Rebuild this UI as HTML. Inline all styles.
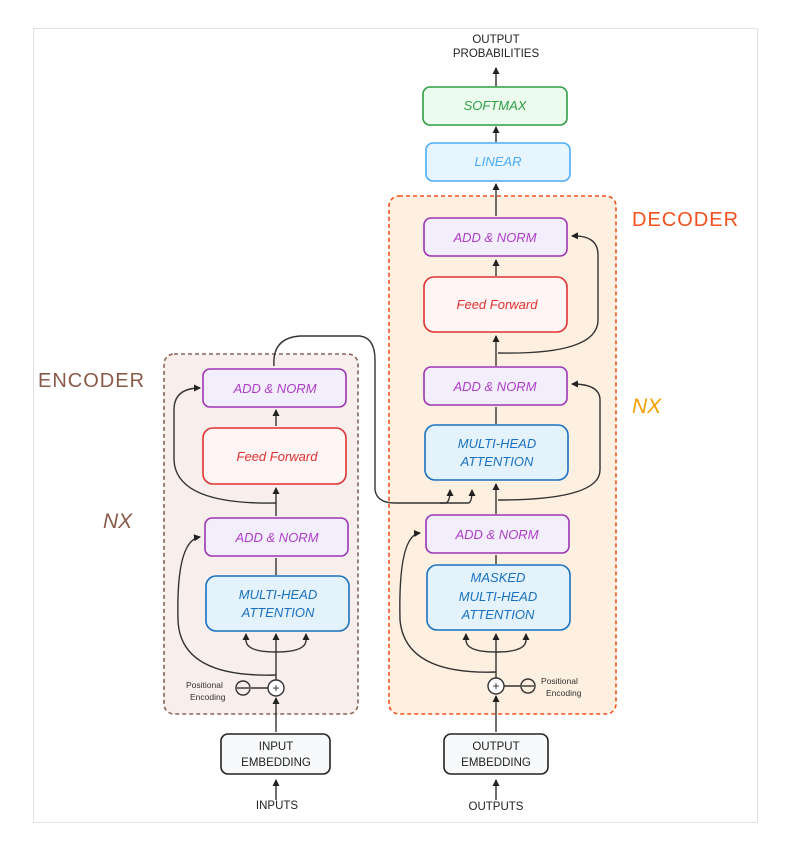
<!DOCTYPE html>
<html><head><meta charset="utf-8"><style>
html,body{margin:0;padding:0;background:#fff;width:788px;height:846px;overflow:hidden}
svg{display:block}
text{font-family:"Liberation Sans",sans-serif}
</style></head><body>
<svg width="788" height="846" viewBox="0 0 788 846" xmlns="http://www.w3.org/2000/svg">
<defs>
<marker id="a" markerWidth="8" markerHeight="8" refX="6" refY="4" orient="auto" markerUnits="userSpaceOnUse"><path d="M0,0.5 L7,4 L0,7.5 z" fill="#222"/></marker>
</defs>
<rect x="33.5" y="28.5" width="724" height="794" fill="#fff" stroke="#e2e2e2"/>

<!-- containers -->
<rect x="164" y="354" width="194" height="360" rx="10" fill="#f8eeeb" stroke="#8a6554" stroke-width="1.6" stroke-dasharray="4,3"/>
<rect x="389" y="196" width="227" height="518" rx="10" fill="#fdf0e0" stroke="#f4511e" stroke-width="1.6" stroke-dasharray="4,3"/>

<text x="38" y="387" font-size="20" fill="#8a5a48" letter-spacing="1">ENCODER</text>
<text x="103" y="528" font-size="21" fill="#8a5a48" font-style="italic">NX</text>
<text x="632" y="226" font-size="20" fill="#f4511e" letter-spacing="1">DECODER</text>
<text x="632" y="413" font-size="21" fill="#f59f00" font-style="italic">NX</text>

<g fill="none" stroke="#333" stroke-width="1.4">
<!-- top arrows -->
<line x1="496" y1="86" x2="496" y2="68" marker-end="url(#a)"/>
<line x1="496" y1="142" x2="496" y2="127" marker-end="url(#a)"/>
<line x1="496" y1="216" x2="496" y2="184" marker-end="url(#a)"/>
<line x1="496" y1="276" x2="496" y2="260" marker-end="url(#a)"/>
<line x1="496" y1="366" x2="496" y2="336" marker-end="url(#a)"/>
<line x1="496" y1="424" x2="496" y2="407"/>
<line x1="496" y1="514" x2="496" y2="484" marker-end="url(#a)"/>
<line x1="496" y1="564" x2="496" y2="555"/>
<line x1="496" y1="732" x2="496" y2="696" marker-end="url(#a)"/>
<line x1="496" y1="800" x2="496" y2="780" marker-end="url(#a)"/>
<line x1="496" y1="678" x2="496" y2="634" marker-end="url(#a)"/>
<path d="M496 652 Q466 652 466 640 L466 634" marker-end="url(#a)"/>
<path d="M496 652 Q526 652 526 640 L526 634" marker-end="url(#a)"/>
<!-- decoder residuals -->
<path d="M496 672 Q405 675 400 620 Q398 535 420 533" marker-end="url(#a)"/>
<path d="M498 500 Q600 500 600 470 L600 400 Q600 384 572 384" marker-end="url(#a)"/>
<path d="M498 353 Q598 355 598 320 L598 255 Q598 235 572 236" marker-end="url(#a)"/>
<!-- encoder to decoder -->
<path d="M274 366 Q272 338 300 336 L360 336 Q375 338 375 360 L375 490 Q377 503 395 503 L445 503 Q450 503 450 490" marker-end="url(#a)"/>
<path d="M440 503 L468 503 Q472 503 472 490" marker-end="url(#a)"/>
<!-- encoder vertical -->
<line x1="276" y1="426" x2="276" y2="410" marker-end="url(#a)"/>
<line x1="276" y1="516" x2="276" y2="488" marker-end="url(#a)"/>
<line x1="276" y1="575" x2="276" y2="558"/>
<line x1="276" y1="680" x2="276" y2="634" marker-end="url(#a)"/>
<path d="M276 652 Q246 652 246 640 L246 634" marker-end="url(#a)"/>
<path d="M276 652 Q306 652 306 640 L306 634" marker-end="url(#a)"/>
<line x1="276" y1="732" x2="276" y2="698" marker-end="url(#a)"/>
<line x1="276" y1="800" x2="276" y2="780" marker-end="url(#a)"/>
<path d="M276 675 Q180 678 178 620 Q176 540 200 537" marker-end="url(#a)"/>
<path d="M276 503 Q176 505 174 460 L174 410 Q174 388 200 388" marker-end="url(#a)"/>
<!-- pos enc -->
<circle cx="276" cy="688" r="8" fill="#fff"/><line x1="251" y1="688" x2="268" y2="688"/>
<circle cx="243" cy="688" r="7"/><line x1="237" y1="688" x2="249" y2="688"/>
<circle cx="496" cy="686" r="8" fill="#fff"/><line x1="504" y1="686" x2="521" y2="686"/>
<circle cx="528" cy="686" r="7"/><line x1="522" y1="686" x2="534" y2="686"/>
</g>
<g font-size="12" fill="#222" text-anchor="middle"><text x="276" y="692">+</text><text x="496" y="690">+</text></g>
<g font-size="8.5" fill="#333"><text x="186" y="688">Positional</text><text x="190" y="700">Encoding</text>
<text x="541" y="684">Positional</text><text x="546" y="696">Encoding</text></g>

<!-- boxes -->
<g stroke-width="1.6">
<rect x="423" y="87" width="144" height="38" rx="7" fill="#ebfbee" stroke="#2f9e44"/>
<rect x="426" y="143" width="144" height="38" rx="7" fill="#e7f5ff" stroke="#4dabf7"/>
<rect x="424" y="218" width="143" height="38" rx="7" fill="#f3eefc" stroke="#9c36b5"/>
<rect x="424" y="277" width="143" height="55" rx="10" fill="#fff5f5" stroke="#e03131"/>
<rect x="424" y="367" width="143" height="38" rx="7" fill="#f3eefc" stroke="#9c36b5"/>
<rect x="425" y="425" width="143" height="55" rx="10" fill="#e3f2fb" stroke="#1971c2"/>
<rect x="426" y="515" width="143" height="38" rx="7" fill="#f3eefc" stroke="#9c36b5"/>
<rect x="427" y="565" width="143" height="65" rx="10" fill="#e3f2fb" stroke="#1971c2"/>
<rect x="444" y="734" width="104" height="40" rx="7" fill="#f8f9fa" stroke="#222"/>
<rect x="203" y="369" width="143" height="38" rx="7" fill="#f3eefc" stroke="#9c36b5"/>
<rect x="203" y="428" width="143" height="56" rx="10" fill="#fff5f5" stroke="#e03131"/>
<rect x="205" y="518" width="143" height="38" rx="7" fill="#f3eefc" stroke="#9c36b5"/>
<rect x="206" y="576" width="143" height="55" rx="10" fill="#e3f2fb" stroke="#1971c2"/>
<rect x="221" y="734" width="109" height="40" rx="7" fill="#f8f9fa" stroke="#222"/>
</g>

<g font-size="13" text-anchor="middle" font-style="italic">
<text x="495" y="110" fill="#2f9e44">SOFTMAX</text>
<text x="498" y="166" fill="#4dabf7">LINEAR</text>
<text x="495" y="242" fill="#ae3ec9">ADD &amp; NORM</text>
<text x="497" y="309" fill="#e03131">Feed Forward</text>
<text x="495" y="391" fill="#ae3ec9">ADD &amp; NORM</text>
<text x="497" y="448" fill="#1971c2">MULTI-HEAD</text>
<text x="497" y="466" fill="#1971c2">ATTENTION</text>
<text x="497" y="539" fill="#ae3ec9">ADD &amp; NORM</text>
<text x="498" y="582" fill="#1971c2">MASKED</text>
<text x="498" y="601" fill="#1971c2">MULTI-HEAD</text>
<text x="498" y="619" fill="#1971c2">ATTENTION</text>
<text x="275" y="393" fill="#ae3ec9">ADD &amp; NORM</text>
<text x="277" y="461" fill="#e03131">Feed Forward</text>
<text x="277" y="542" fill="#ae3ec9">ADD &amp; NORM</text>
<text x="278" y="599" fill="#1971c2">MULTI-HEAD</text>
<text x="278" y="617" fill="#1971c2">ATTENTION</text>
</g>
<g font-size="11.5" text-anchor="middle" fill="#222">
<text x="496" y="43">OUTPUT</text><text x="496" y="57">PROBABILITIES</text>
<text x="276" y="750">INPUT</text><text x="276" y="766">EMBEDDING</text>
<text x="496" y="750">OUTPUT</text><text x="496" y="766">EMBEDDING</text>
<text x="277" y="809">INPUTS</text><text x="496" y="810">OUTPUTS</text>
</g>
</svg>
</body></html>
